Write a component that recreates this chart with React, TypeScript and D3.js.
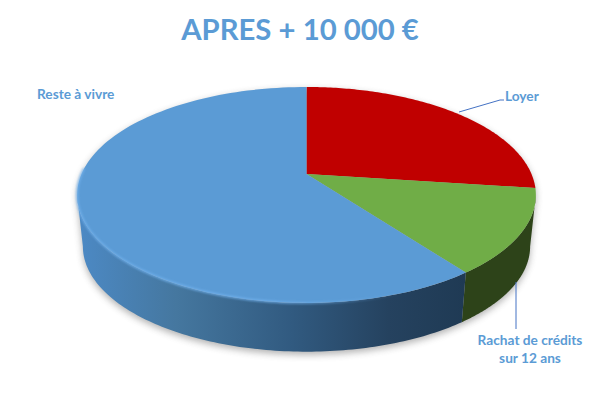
import React from "react";
import * as d3 from "d3";

const categories = ["Loyer", "Rachat de crédits", "Reste à vivre"];
const shares = [27.1, 12.7, 60.2];
const topColors = ["#c00000", "#70ad47", "#5b9bd5"];
const sideColors = ["#5c0000", "#2d4319", "url(#blueSide)"];

const WIDTH = 600;
const HEIGHT = 400;
const CX = 306.5;
const CY = 174;
const RX = 225;
const RY = 103.9;
const TILT = -0.194;
const DEPTH_SCALE = 0.975;
const DEPTH_DY = 52;

// the wall only shows between the two widest points of the top face
const FRONT_START = Math.acos(TILT);
const FRONT_END = Math.PI * 2 - FRONT_START;

const pie = d3
  .pie<number>()
  .sort(null)
  .value((d) => d);

// circle to screen, with the perspective of the 3D pie
const project = (angle: number, bottom = false): [number, number] => {
  const u = Math.sin(angle);
  const v = -Math.cos(angle);
  const w = 1 + TILT * v;
  const s = bottom ? DEPTH_SCALE : 1;
  return [
    CX + (s * RX * u) / w,
    CY + (bottom ? DEPTH_DY : 0) + (s * RY * v) / w,
  ];
};

const arcPoints = (a0: number, a1: number, bottom = false) =>
  d3.range(0, 121).map((i) => project(a0 + ((a1 - a0) * i) / 120, bottom));

const line = d3.line();

const App = () => {
  const slices = pie(shares);
  const blue = slices[2];
  const outline = [
    ...arcPoints(FRONT_END, FRONT_START + Math.PI * 2),
    ...arcPoints(FRONT_START, FRONT_END, true),
  ];

  return (
    <svg
      width={WIDTH}
      height={HEIGHT}
      style={{ position: "absolute", left: 0, top: 0 }}
      fontFamily="Lato, Carlito, sans-serif"
    >
      <defs>
        <filter id="soft" x="-10%" y="-10%" width="120%" height="130%">
          <feGaussianBlur stdDeviation="3.5" />
        </filter>
        <filter id="rim" x="-5%" y="-5%" width="110%" height="110%">
          <feGaussianBlur stdDeviation="0.8" />
        </filter>
        <linearGradient id="blueSide" gradientUnits="userSpaceOnUse" x1="80" x2="466" y1="0" y2="0">
          <stop offset="0" stopColor="#4c89c4" />
          <stop offset="0.25" stopColor="#45779f" />
          <stop offset="0.55" stopColor="#315a80" />
          <stop offset="0.8" stopColor="#25425f" />
          <stop offset="1" stopColor="#1f3a54" />
        </linearGradient>
        <linearGradient id="rimStroke" gradientUnits="userSpaceOnUse" x1="78" x2="400" y1="0" y2="0">
          <stop offset="0" stopColor="#72b2ee" stopOpacity="0.9" />
          <stop offset="0.6" stopColor="#72b2ee" stopOpacity="0.9" />
          <stop offset="1" stopColor="#72b2ee" stopOpacity="0" />
        </linearGradient>
      </defs>

      <path
        d={line(outline) + "Z"}
        fill="#555"
        opacity={0.45}
        transform="translate(0, 3)"
        filter="url(#soft)"
      />

      {slices.map((s, i) => {
        const a0 = Math.max(s.startAngle, FRONT_START);
        const a1 = Math.min(s.endAngle, FRONT_END);
        if (a1 <= a0) return null;
        const top = arcPoints(a0, a1);
        const low = arcPoints(a0, a1, true).reverse();
        return (
          <path key={categories[i]} d={line([...top, ...low]) + "Z"} fill={sideColors[i]} />
        );
      })}

      {slices.map((s, i) => (
        <path
          key={categories[i]}
          d={line([[CX, CY], ...arcPoints(s.startAngle, s.endAngle)]) + "Z"}
          fill={topColors[i]}
        />
      ))}

      <path
        d={line(arcPoints(blue.startAngle, FRONT_END + 0.25)) ?? ""}
        fill="none"
        stroke="url(#rimStroke)"
        strokeWidth={2}
        filter="url(#rim)"
      />

      <text x={300} y={40} textAnchor="middle" fontSize={29.3} fontWeight={700} fill="#5b9bd5">
        APRES + 10 000 €
      </text>

      <path d="M459,112L500,100L504,100" fill="none" stroke="#4472c4" strokeWidth={1} />
      <path d="M516,282V329" fill="none" stroke="#4472c4" strokeWidth={1} />

      <g fontSize={13.7} fontWeight={700} fill="#5b9bd5">
        <text x={37} y={99}>{categories[2]}</text>
        <text x={505} y={101}>{categories[0]}</text>
        <text x={530} y={345} textAnchor="middle">{categories[1]}</text>
        <text x={530} y={363} textAnchor="middle">sur 12 ans</text>
      </g>
    </svg>
  );
};

export default App;
